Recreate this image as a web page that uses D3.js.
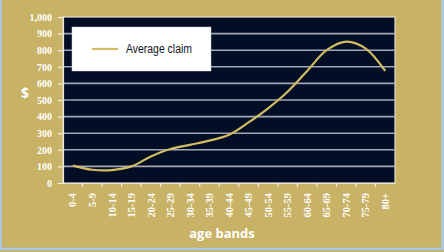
<!DOCTYPE html>
<html>
<head>
<meta charset="utf-8">
<script src="https://cdn.jsdelivr.net/npm/d3@7"></script>
<style>
  html, body { margin: 0; padding: 0; background: #c8b265; }
  svg { display: block; }
</style>
</head>
<body>
<div id="chart"></div>
<script>
// age bands and average claim values
var ageBands = ["0-4", "5-9", "10-14", "15-19", "20-24", "25-29", "30-34", "35-39", "40-44",
                "45-49", "50-54", "55-59", "60-64", "65-69", "70-74", "75-79", "80+"];
var averageClaim = [105, 80, 78, 100, 160, 205, 230, 255, 290, 365, 450, 550, 675, 800, 852, 810, 675];
var yTicks = [0, 100, 200, 300, 400, 500, 600, 700, 800, 900, 1000];
var seriesName = "Average claim";

var W = 444, H = 252;
var plot = {left: 63, right: 395, top: 17, bottom: 183};

var svg = d3.select("#chart").append("svg")
    .attr("width", W)
    .attr("height", H);

// background + light blue frame
svg.append("rect").attr("x", 0).attr("y", 0).attr("width", W).attr("height", H).attr("fill", "#c8b265");
svg.append("rect").attr("x", 0.5).attr("y", -2).attr("width", W - 2).attr("height", H - 1)
    .attr("fill", "none").attr("stroke", "#a9c8ec").attr("stroke-width", 2.5);

var x = d3.scaleBand().domain(ageBands).range([plot.left, plot.right]);
var y = d3.scaleLinear().domain([0, 1000]).range([plot.bottom, plot.top]);

// plot area
svg.append("rect")
    .attr("x", plot.left).attr("y", plot.top)
    .attr("width", plot.right - plot.left).attr("height", plot.bottom - plot.top)
    .attr("fill", "#020e26").attr("stroke", "#e4e0d0").attr("stroke-width", 1.2);

// gridlines
svg.append("g").selectAll("line")
    .data(yTicks.filter(function(d){ return d > 0 && d < 1000; }))
    .enter().append("line")
    .attr("x1", plot.left).attr("x2", plot.right)
    .attr("y1", function(d){ return y(d); }).attr("y2", function(d){ return y(d); })
    .attr("stroke", "#a3a5b3").attr("stroke-width", 1.6);

// y axis
var yAxis = svg.append("g")
    .attr("transform", "translate(" + plot.left + ",0)")
    .call(d3.axisLeft(y).tickValues(yTicks).tickSize(5).tickPadding(6).tickFormat(d3.format(",")));
yAxis.select(".domain").attr("stroke", "#e8e4d4").attr("stroke-width", 1.2);
yAxis.selectAll(".tick line").attr("stroke", "#f2eee2").attr("stroke-width", 1.2);
yAxis.selectAll(".tick text")
    .attr("fill", "#ffffff")
    .style("font-family", "'Liberation Serif', 'DejaVu Serif', serif")
    .style("font-weight", "bold")
    .style("font-size", "10px");

// x axis: ticks on band boundaries
var xAxis = svg.append("g")
    .attr("transform", "translate(0," + plot.bottom + ")")
    .call(d3.axisBottom(x).tickSize(0).tickPadding(0));
xAxis.select(".domain").attr("stroke", "#e8e4d4").attr("stroke-width", 1.2);
xAxis.selectAll(".tick text")
    .attr("fill", "#ffffff")
    .attr("transform", "rotate(-90)")
    .attr("text-anchor", "end")
    .attr("x", -10).attr("y", 0).attr("dy", "0.35em")
    .style("font-family", "'Liberation Serif', 'DejaVu Serif', serif")
    .style("font-weight", "bold")
    .style("font-size", "10.5px");
svg.append("g").selectAll("line")
    .data(ageBands.slice(1))
    .enter().append("line")
    .attr("x1", function(d){ return x(d); }).attr("x2", function(d){ return x(d); })
    .attr("y1", plot.bottom).attr("y2", plot.bottom + 4)
    .attr("stroke", "#f2eee2").attr("stroke-width", 1.2);

// the line
var line = d3.line()
    .x(function(d, i){ return x(ageBands[i]) + x.bandwidth() / 2; })
    .y(function(d){ return y(d); })
    .curve(d3.curveCatmullRom.alpha(0.5));

svg.append("path")
    .datum(averageClaim)
    .attr("d", line)
    .attr("fill", "none")
    .attr("stroke", "#d4bc62")
    .attr("stroke-width", 2.2);

// legend
var lg = svg.append("g");
lg.append("rect").attr("x", 72).attr("y", 27).attr("width", 139).attr("height", 44)
    .attr("fill", "#ffffff").attr("stroke", "#d0d0d0").attr("stroke-width", 0.5);
lg.append("line").attr("x1", 92).attr("x2", 118).attr("y1", 49).attr("y2", 49)
    .attr("stroke", "#d4bc62").attr("stroke-width", 2.2);
lg.append("text").attr("x", 126).attr("y", 49).attr("dy", "0.35em")
    .text(seriesName)
    .attr("textLength", 66).attr("lengthAdjust", "spacingAndGlyphs")
    .attr("fill", "#101426")
    .style("font-family", "'Liberation Sans', sans-serif")
    .style("font-size", "12px");

// axis titles
svg.append("text").attr("x", 25).attr("y", 93).attr("dy", "0.35em")
    .attr("text-anchor", "middle")
    .text("$")
    .attr("fill", "#ffffff")
    .style("font-family", "'Open Sans', sans-serif")
    .style("font-weight", "bold")
    .style("font-size", "14px");

svg.append("text").attr("x", 222).attr("y", 233).attr("dy", "0.35em")
    .attr("text-anchor", "middle")
    .text("age bands")
    .attr("fill", "#ffffff")
    .style("font-family", "'Open Sans', sans-serif")
    .style("font-weight", "bold")
    .style("font-size", "13px");
</script>
</body>
</html>
